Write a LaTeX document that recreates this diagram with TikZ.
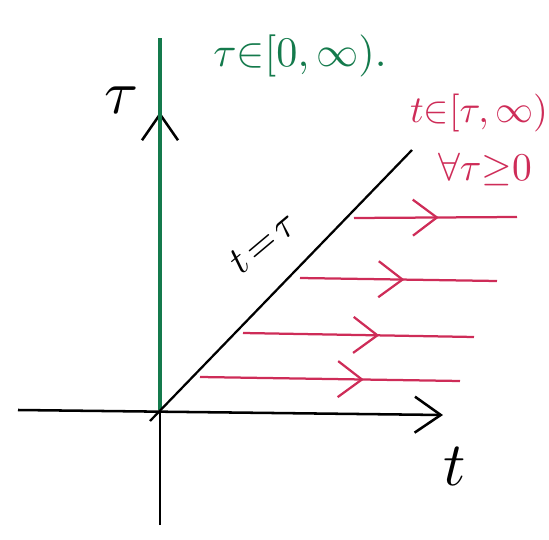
\documentclass[tikz,border=0pt]{standalone}
\usepackage{tikz}
\usetikzlibrary{arrows.meta,calc,positioning,decorations.markings}

\definecolor{penGreen}{RGB}{20,122,76}
\definecolor{penRed}{RGB}{206,44,88}

\tikzset{
  axis/.style={line width=1.8pt, -{Straight Barb[length=6.5mm,width=9mm]}},
  pen/.style={line width=1.6pt},
  greenpen/.style={line width=2.4pt, penGreen},
  ray/.style={line width=1.6pt, penRed,
    postaction={decorate, decoration={markings,
      mark=at position #1 with {\arrow{Straight Barb[length=6mm,width=9mm]}}}}},
  hand/.style={scale=#1/10, inner sep=0pt},
}

\begin{document}
\begin{tikzpicture}[x=0.025cm, y=-0.025cm]
\useasboundingbox (0,0) rectangle (549,540);

\coordinate (origin) at (160,410);
\coordinate (tauBot) at (160,525);
\coordinate (tauTop) at (160,112);
\coordinate (tLeft) at (18,410);
\coordinate (tRight) at (443,415);
\coordinate (greenTop) at (160,38);
\coordinate (diagLow) at (150,421);
\coordinate (diagHigh) at (412,150);

% axes and the line t = tau
\draw [axis] (tauBot) to (tauTop);
\draw [axis] (tLeft) to (tRight);
\draw [greenpen] (origin) to (greenTop);
\draw [pen] (diagLow) to (diagHigh);

% rays t in [tau, infinity)
\foreach \xa/\ya/\xb/\yb/\p [count=\i] in
    {354/218/517/217/0.52, 300/278/497/281/0.53,
     243/333/474/337/0.59, 200/377/460/381/0.63} {
  \coordinate (s\i) at (\xa,\ya);
  \coordinate (e\i) at (\xb,\yb);
  \draw [ray=\p] (s\i) to (e\i);
}

\node[hand=44] (tauLabel) at (122,100) {$\tau$};
\node[hand=44] (tLabel) at (455,466) {$t$};
\node[hand=28, rotate=40] (diagLabel) at (263,242) {$t\mkern2mu{=}\mkern2mu\tau$};
\node[hand=30, text=penGreen] (tauRange) at (300,56) {$\tau{\in}[0,\infty).$};
\node[hand=27, text=penRed] (tRange) at (479,113) {$t{\in}[\tau,\infty)$};
\node[hand=28, text=penRed] (forallTau) at (485,170) {$\forall\tau{\geq}0$};

\end{tikzpicture}
\end{document}
